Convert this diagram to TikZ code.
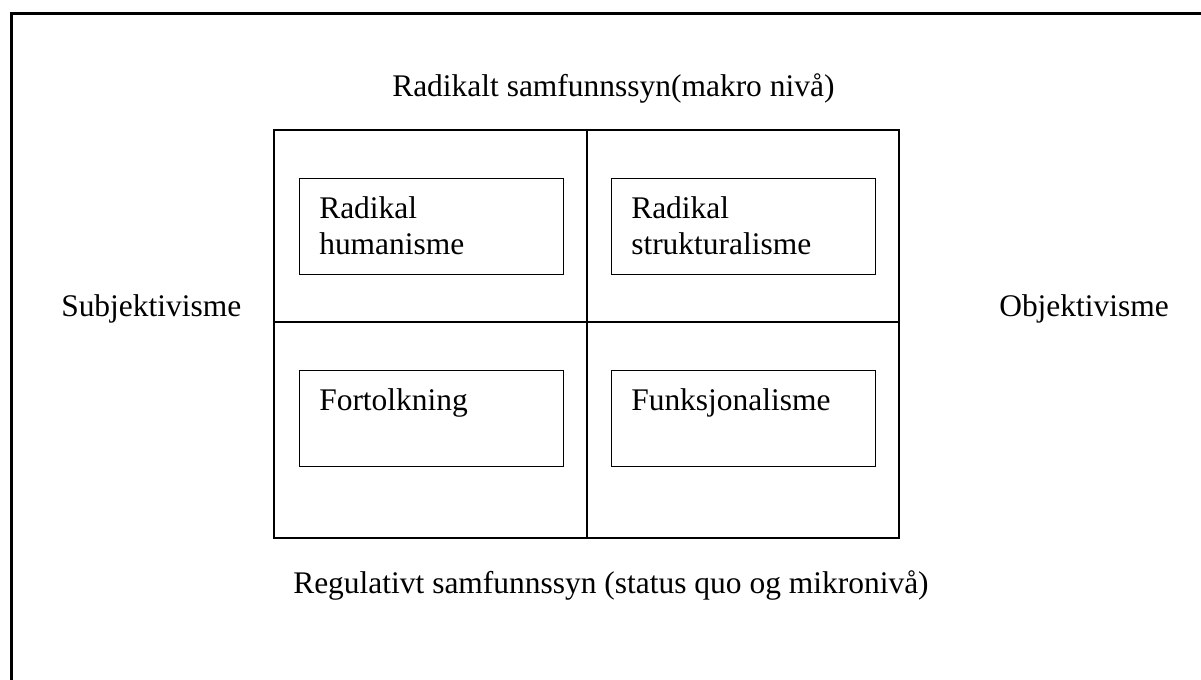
\documentclass[tikz,border=0pt]{standalone}
\usepackage{fontspec}
\setmainfont{Liberation Serif}
\begin{document}
\begin{tikzpicture}[x=0.75pt,y=-0.75pt,
  txt/.style={anchor=base west,inner sep=0pt,font=\fontsize{23.6pt}{27.2pt}\selectfont},
  cellbox/.style={draw,line width=1pt,minimum width=198pt,minimum height=72pt,anchor=north west,inner sep=0pt},
  gridline/.style={line width=1pt}]
  \useasboundingbox (0,0) rectangle (1201,680);
  \clip (0,0) rectangle (1201,680);
  \fill[white] (0,0) rectangle (1201,680);
  % outer frame
  \draw[line width=1.7pt] (11.5,13.5) rectangle (1215,700);
  % four-field grid
  \draw[gridline] (274,130) rectangle (899,538);
  \draw[gridline] (587,130) -- (587,538);
  \draw[gridline] (274,322) -- (899,322);
  % axis labels
  \node[txt] (top) at (392,97) {Radikalt samfunnssyn(makro nivå)};
  \node[txt] (bottom) at (293,593) {Regulativt samfunnssyn (status quo og mikronivå)};
  \node[txt] (left) at (61,317) {Subjektivisme};
  \node[txt] (right) at (999,317) {Objektivisme};
  % paradigm boxes
  \node[cellbox] (rh) at (299,178) {};
  \node[cellbox] (rs) at (611,178) {};
  \node[cellbox] (fo) at (299,370) {};
  \node[cellbox] (fu) at (611,370) {};
  % two-line labels: the base anchor sits on the last line
  \node[txt,align=left] (rhtext) at ([shift={(20,77)}]rh.north west) {Radikal\\humanisme};
  \node[txt,align=left] (rstext) at ([shift={(20,77)}]rs.north west) {Radikal\\strukturalisme};
  \node[txt] (fotext) at ([shift={(20,40)}]fo.north west) {Fortolkning};
  \node[txt] (futext) at ([shift={(20,40)}]fu.north west) {Funksjonalisme};
\end{tikzpicture}
\end{document}
